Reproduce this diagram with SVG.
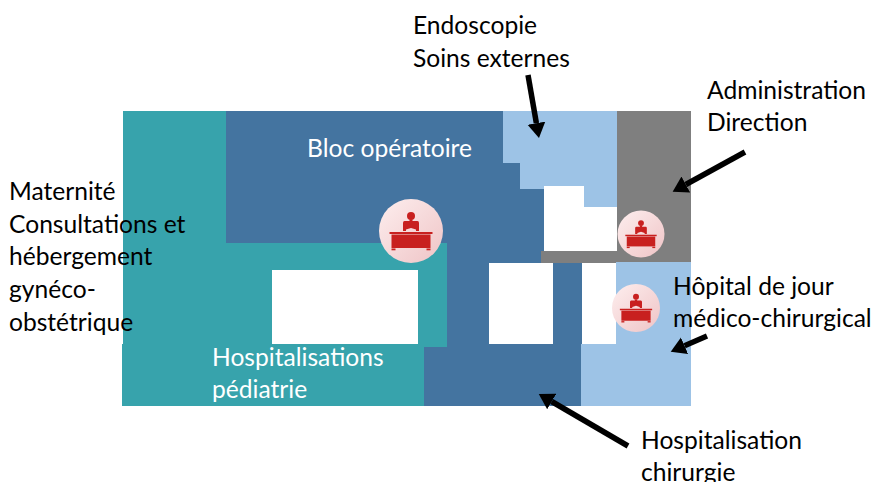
<svg xmlns="http://www.w3.org/2000/svg" width="878" height="482" viewBox="0 0 878 482">
  <style>
    .lbl{font-family:"Lato","Carlito","Liberation Sans",sans-serif;font-size:24.600px;fill:#000}
    .w{fill:#fff}
    .teal{fill:#37a3ac}.blue{fill:#4474a0}.sky{fill:#9dc3e6}.gray{fill:#7f7f7f}.hole{fill:#fff}
    .arrow{fill:none;stroke:#000;stroke-width:5.500px;marker-end:url(#head)}
    .disc{fill:url(#pink)}
  </style>
  <defs>
    <marker id="head" markerUnits="userSpaceOnUse" markerWidth="18" markerHeight="20" refX="0" refY="10" orient="auto" viewBox="0 0 18 20">
      <path d="M0 1L15 10L0 19Z" fill="#000"/>
    </marker>
    <linearGradient id="pink" x1="0" y1="0" x2="1" y2="1">
      <stop offset="0" stop-color="#fdeeee"/>
      <stop offset="1" stop-color="#efc4c6"/>
    </linearGradient>
    <g id="desk" fill="#c8201f">
      <circle cx="0" cy="-15" r="4"/>
      <path d="M-1.500 -11.500H1.500V-10H6.500Q8 -10 8 -8V0H-8V-8Q-8 -10 -6.500 -10H-1.500Z"/>
      <path d="M-5 -1.500L0 -3L5 -1.500V0H-5Z" fill="#f6d9da"/>
      <rect x="-21.500" y="1" width="43" height="2"/>
      <rect x="-19.500" y="3.500" width="39" height="13.500"/>
      <rect x="-19.500" y="17.500" width="4" height="1.800"/>
      <rect x="15.500" y="17.500" width="4" height="1.800"/>
    </g>
  </defs>
  <g id="maternite">
    <path class="teal" d="M123 111H226V243H447V347H424V406H122V344H123Z"/>
    <rect class="hole" x="272" y="270" width="146" height="74"/>
  </g>
  <g id="bloc">
    <path class="blue" d="M226 111H503V163H520V189H544V251H541V263H489V344H553V261H582V344H581V406H424V347H447V243H226Z"/>
  </g>
  <g id="endoscopie">
    <path class="sky" d="M503 111H617V207H584V186H544V189H520V163H503Z"/>
    <path class="hole" d="M544 186H584V207H617V251H544Z"/>
  </g>
  <g id="administration">
    <path class="gray" d="M617 111H691V263H541V251H617Z"/>
  </g>
  <g id="hopital-jour">
    <path class="hole" d="M582 263H616V344H582Z"/>
    <path class="sky" d="M616 262H691V406H581V344H616Z"/>
  </g>
  <g id="poste-1">
    <circle class="disc" cx="411" cy="231" r="32"/>
    <use href="#desk" transform="translate(411 231)"/>
  </g>
  <g id="poste-2">
    <circle class="disc" cx="641" cy="234" r="23.500"/>
    <use href="#desk" transform="translate(641 234) scale(.73)"/>
  </g>
  <g id="poste-3">
    <circle class="disc" cx="636" cy="308" r="24"/>
    <use href="#desk" transform="translate(636 308) scale(.75)"/>
  </g>
  <g id="labels">
    <text class="lbl" x="413" y="34">Endoscopie</text>
    <text class="lbl" x="413" y="67">Soins externes</text>
    <text class="lbl" x="707" y="99">Administration</text>
    <text class="lbl" x="707" y="131">Direction</text>
    <text class="lbl w" x="307" y="157">Bloc opératoire</text>
    <text class="lbl" x="9" y="200">Maternité</text>
    <text class="lbl" x="9" y="233">Consultations et</text>
    <text class="lbl" x="9" y="265">hébergement</text>
    <text class="lbl" x="9" y="298">gynéco-</text>
    <text class="lbl" x="9" y="331">obstétrique</text>
    <text class="lbl w" x="212" y="366">Hospitalisations</text>
    <text class="lbl w" x="212" y="398">pédiatrie</text>
    <text class="lbl" x="673" y="295">Hôpital de jour</text>
    <text class="lbl" x="673" y="327">médico-chirurgical</text>
    <text class="lbl" x="641" y="449">Hospitalisation</text>
    <text class="lbl" x="641" y="481">chirurgie</text>
  </g>
  <g id="connectors">
    <path class="arrow" d="M528 75L536.400 123.200"/>
    <path class="arrow" d="M745 152L685.800 184.500"/>
    <path class="arrow" d="M707 336L684.500 345.700"/>
    <path class="arrow" d="M628 446L551.700 401.500"/>
  </g>
</svg>
